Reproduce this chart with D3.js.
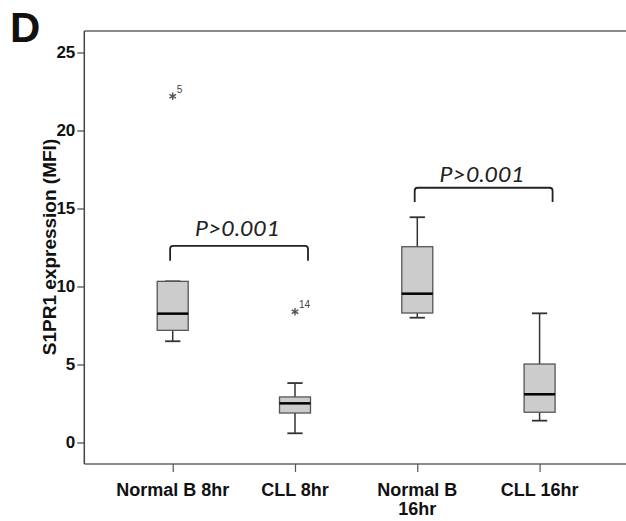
<!DOCTYPE html>
<html><head><meta charset="utf-8">
<script src="https://cdn.jsdelivr.net/npm/d3@7"></script>
<style>body{margin:0;background:#fff}svg{display:block}</style>
</head><body>
<svg id="chart" width="626" height="521"></svg>
<script>
const categories = ["Normal B 8hr", "CLL 8hr", "Normal B\n16hr", "CLL 16hr"];
const whiskerLow = [6.49, 0.59, 8.0, 1.40];
const q1 = [7.19, 1.89, 8.30, 1.94];
const median = [8.26, 2.51, 9.54, 3.09];
const q3 = [10.33, 2.92, 12.55, 5.03];
const whiskerHigh = [10.33, 3.81, 14.44, 8.28];
const outlierCat = [0, 1];
const outlierVal = [22.2, 8.38];
const outlierLabel = ["5", "14"];
const yTicks = [0, 5, 10, 15, 20, 25];
const brackets = [{from: 0, to: 1, text: "P>0.001", y: 12.6, drop: 11.65, ty: 13.24},
                  {from: 2, to: 3, text: "P>0.001", y: 16.33, drop: 15.42, ty: 16.72}];

const FONT = "'Liberation Sans', Arial, sans-serif";
const svg = d3.select("#chart");
const x = d3.scalePoint().domain(d3.range(categories.length)).range([84.3, 628]).padding(0.723);
const y = d3.scaleLinear().domain([0, 25]).range([442.5, 52.5]);
const yBottom = 464, yTop = 31;

// frame lines
svg.append("line").attr("x1", 84.3).attr("x2", 626).attr("y1", yTop).attr("y2", yTop)
  .attr("stroke", "#8a8a8a").attr("stroke-width", 2);
svg.append("line").attr("x1", 84.3).attr("x2", 626).attr("y1", yBottom).attr("y2", yBottom)
  .attr("stroke", "#666").attr("stroke-width", 1.5);
svg.append("line").attr("x1", 84.3).attr("x2", 84.3).attr("y1", yTop).attr("y2", yBottom)
  .attr("stroke", "#444").attr("stroke-width", 1.5);

// y axis
const yAxis = svg.append("g").attr("transform", "translate(84.3,0)")
  .call(d3.axisLeft(y).tickValues(yTicks).tickSize(7).tickPadding(2));
yAxis.select(".domain").remove();
yAxis.selectAll("line").attr("stroke", "#444").attr("stroke-width", 1.2);
yAxis.selectAll("text").attr("font-family", FONT)
  .attr("font-size", 17).attr("font-weight", "bold").attr("fill", "#111");

// x axis
const xAxis = svg.append("g").attr("transform", `translate(0,${yBottom})`)
  .call(d3.axisBottom(x).tickSize(8).tickFormat(""));
xAxis.select(".domain").remove();
xAxis.selectAll("line").attr("stroke", "#555").attr("stroke-width", 1.2);
categories.forEach((c, i) => {
  c.split("\n").forEach((line, k) => {
    svg.append("text").attr("x", x(i)).attr("y", 496 + k * 18.5).attr("text-anchor", "middle")
      .attr("font-family", FONT).attr("font-size", 18)
      .attr("font-weight", "bold").attr("fill", "#111").text(line);
  });
});

// y label
svg.append("text").attr("transform", `translate(56,247) rotate(-90)`).attr("text-anchor", "middle")
  .attr("font-family", FONT).attr("font-size", 19)
  .attr("font-weight", "bold").attr("fill", "#111").text("S1PR1 expression (MFI)");

// panel letter
svg.append("text").attr("x", 10).attr("y", 42).attr("font-family", FONT)
  .attr("font-size", 42).attr("font-weight", "bold").attr("fill", "#111").text("D");

// boxes
const bw = 31, cap = 15.3;
categories.forEach((c, i) => {
  const cx = x(i);
  const g = svg.append("g");
  g.append("line").attr("x1", cx).attr("x2", cx).attr("y1", y(whiskerHigh[i])).attr("y2", y(q3[i]))
    .attr("stroke", "#333").attr("stroke-width", 1.5);
  g.append("line").attr("x1", cx).attr("x2", cx).attr("y1", y(q1[i])).attr("y2", y(whiskerLow[i]))
    .attr("stroke", "#333").attr("stroke-width", 1.5);
  [whiskerHigh[i], whiskerLow[i]].forEach(v => {
    g.append("line").attr("x1", cx - cap / 2).attr("x2", cx + cap / 2).attr("y1", y(v)).attr("y2", y(v))
      .attr("stroke", "#333").attr("stroke-width", 1.8);
  });
  g.append("rect").attr("x", cx - bw / 2).attr("y", y(q3[i])).attr("width", bw)
    .attr("height", y(q1[i]) - y(q3[i])).attr("fill", "#cccccc").attr("stroke", "#555").attr("stroke-width", 1.3);
  g.append("line").attr("x1", cx - bw / 2).attr("x2", cx + bw / 2).attr("y1", y(median[i])).attr("y2", y(median[i]))
    .attr("stroke", "#000").attr("stroke-width", 2.5);
});

// outliers
outlierCat.forEach((ci, k) => {
  const cx = x(ci), cy = y(outlierVal[k]);
  svg.append("path").attr("transform", `translate(${cx},${cy})`)
    .attr("d", d3.symbol(d3.symbolAsterisk, 40)())
    .attr("fill", "none").attr("stroke", "#555").attr("stroke-width", 1.4);
  svg.append("text").attr("x", cx + 4).attr("y", cy - 3.5)
    .attr("font-family", FONT).attr("font-size", 10).attr("fill", "#444").text(outlierLabel[k]);
});

// brackets
brackets.forEach(b => {
  const x1 = x(b.from) - 2.6, x2 = x(b.to) + 13;
  const yy = y(b.y), yd = y(b.drop), r = 3;
  svg.append("path")
    .attr("d", `M${x1},${yd} L${x1},${yy + r} Q${x1},${yy} ${x1 + r},${yy} L${x2 - r},${yy} Q${x2},${yy} ${x2},${yy + r} L${x2},${yd}`)
    .attr("fill", "none").attr("stroke", "#222").attr("stroke-width", 1.8);
  svg.append("text").attr("x", (x1 + x2) / 2 - 1.5).attr("y", y(b.ty)).attr("text-anchor", "middle")
    .attr("font-family", "Lato, 'Open Sans', sans-serif").attr("font-style", "italic")
    .attr("font-size", 21).attr("textLength", 85).attr("lengthAdjust", "spacingAndGlyphs")
    .attr("fill", "#222").text(b.text);
});
</script>
</body></html>
